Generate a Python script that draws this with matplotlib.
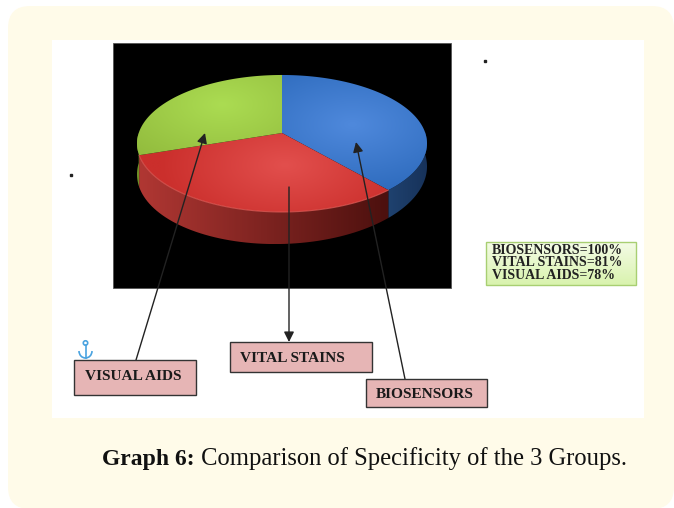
import numpy as np
import matplotlib
matplotlib.use("Agg")
import matplotlib.pyplot as plt
from matplotlib.colors import LinearSegmentedColormap
from matplotlib.patches import FancyBboxPatch, Polygon, Rectangle, Circle, Arc

# data
groups = ["BIOSENSORS", "VITAL STAINS", "VISUAL AIDS"]
specificity = [100, 81, 78]
legend_lines = ["BIOSENSORS=100%", "VITAL STAINS=81%", "VISUAL AIDS=78%"]
caption_bold = "Graph 6:"
caption_rest = " Comparison of Specificity of the 3 Groups."

W, H = 674, 508
CREAM = "#fffbe9"
TOP_COLORS = [("#4f89dc", "#2f6cbe"), ("#e24f4d", "#cb2f2c"), ("#abdc52", "#92bb3d")]
TOP_GLOW = [(352, 125), (285, 165), (222, 105)]
SIDE_COLORS = [("#1f426f", "#17325a"), ("#b03733", "#4c100e"), ("#6f8f28", "#6f8f28")]

# pie geometry, in picture pixels
CX, CY = 282, 133
RX, RY, K = 143.3, 66.9, 0.153


def project(theta):
    u, v = np.cos(theta), np.sin(theta)
    return CX + RX * u / (1 + K * v), CY - RY * v / (1 + K * v)


def drop(theta):
    # how far the rim goes down at this angle
    return 26 - 6 * np.sin(theta) - 4 * np.cos(theta)


def gradient_fill(ax, verts, cmap, mode, glow=None, zorder=2):
    poly = Polygon(verts, closed=True, transform=ax.transData, fc="none", ec="none")
    ax.add_patch(poly)
    x0, y0 = verts.min(axis=0)
    x1, y1 = verts.max(axis=0)
    xx, yy = np.meshgrid(np.linspace(x0, x1, 200), np.linspace(y0, y1, 120))
    if mode == "radial":
        g = np.hypot((xx - glow[0]) / 125, (yy - glow[1]) / 68)
    elif mode == "horizontal":
        g = (xx - x0) / max(x1 - x0, 1)
    else:
        g = (yy - y0) / max(y1 - y0, 1)
    im = ax.imshow(np.clip(g, 0, 1), extent=(x0, x1, y1, y0), cmap=cmap, vmin=0, vmax=1,
                   aspect="auto", zorder=zorder, interpolation="bilinear")
    im.set_clip_path(poly)


fig = plt.figure(figsize=(W / 100, H / 100), dpi=100, facecolor="white")
ax = fig.add_axes([0, 0, 1, 1])
ax.axis("off")

ax.add_patch(FancyBboxPatch((8 + 22, 6 + 22), W - 8 - 44, H + 1 - 6 - 44,
                            boxstyle="round,pad=22", fc=CREAM, ec="none", zorder=0))
ax.add_patch(Rectangle((52, 40), 592, 378, fc="white", ec="none", zorder=1))
ax.add_patch(Rectangle((113, 43), 338, 245, fc="black", ec="#555555", lw=0.6, zorder=1.5))

# wedge limits from the values, clockwise from twelve o'clock
shares = np.array(specificity, dtype=float) / sum(specificity)
edges = np.pi / 2 - 2 * np.pi * np.concatenate([[0], np.cumsum(shares)])

# rim first
rim_stops = [(edges[1], 0.02), (edges[2], edges[1]), (-np.pi, edges[2])]
for (a, b), (c0, c1) in zip(rim_stops, SIDE_COLORS):
    th = np.linspace(b, a, 60)
    x, y = project(th)
    top = np.column_stack([x, y])
    bottom = np.column_stack([x, y + drop(th)])
    verts = np.vstack([top, bottom[::-1]])
    cmap = LinearSegmentedColormap.from_list("rim", [c0, c1])
    gradient_fill(ax, verts, cmap, "horizontal", zorder=2)

# top face
for i in range(3):
    th = np.linspace(edges[i], edges[i + 1], 80)
    x, y = project(th)
    verts = np.vstack([[CX, CY], np.column_stack([x, y])])
    cmap = LinearSegmentedColormap.from_list("top", list(TOP_COLORS[i]))
    gradient_fill(ax, verts, cmap, "radial", glow=TOP_GLOW[i], zorder=3)

# soft highlight on the red front edge
th = np.linspace(edges[2], edges[1], 80)
x, y = project(th)
ax.plot(x, y, color="#e8615c", lw=0.8, alpha=0.7, zorder=3.5)

ax.set_xlim(0, W)
ax.set_ylim(H, 0)

# leader lines
leaders = [((136, 360), (205, 133)), ((289, 187), (289, 342)), ((405, 379), (356, 142))]
for start, end in leaders:
    ax.annotate("", xy=end, xytext=start, zorder=5,
                arrowprops=dict(arrowstyle="-|>,head_width=0.3,head_length=0.6", color="#222222",
                                lw=1.0, shrinkA=0, shrinkB=0))

# name boxes
boxes = {"VISUAL AIDS": (74, 360, 122, 35), "VITAL STAINS": (230, 342, 142, 30), "BIOSENSORS": (366, 379, 121, 28)}
label_pos = {"VISUAL AIDS": (85, 376.5), "VITAL STAINS": (240, 358), "BIOSENSORS": (376, 394)}
for name in groups:
    bx, by, bw, bh = boxes[name]
    ax.add_patch(Rectangle((bx, by), bw, bh, fc="#e6b5b5", ec="#333333", lw=1.0, zorder=6))
    lx, ly = label_pos[name]
    ax.text(lx, ly, name, ha="left", va="center", family="Liberation Serif", weight="bold",
            fontsize=11.1, color="#1a1a1a", zorder=7)

# results box
gradient_fill(ax, np.array([[486, 242], [636, 242], [636, 285], [486, 285]], dtype=float),
              LinearSegmentedColormap.from_list("lg", ["#f4fbe6", "#d9f3ae"]), "vertical", zorder=2)
ax.set_xlim(0, W)
ax.set_ylim(H, 0)
ax.add_patch(Rectangle((486, 242), 150, 43, fc="none", ec="#a8cf72", lw=1.0, zorder=3))
for i, line in enumerate(legend_lines):
    ax.text(492, 250.5 + i * 12.3, line, va="center", family="Liberation Serif", weight="bold",
            fontsize=10.0, color="#222222", zorder=4)

# stray dots
ax.plot([485, 71], [61, 175], ls="none", marker="s", ms=2, color="#222222", zorder=2)

# anchor icon
blue = "#4aa3e0"
ax.add_patch(Circle((85.5, 343), 2.2, fc="none", ec=blue, lw=1.2, zorder=4))
ax.plot([85.5, 85.5], [345, 358], color=blue, lw=1.2, zorder=4)
ax.add_patch(Arc((85.5, 351), 13, 14, theta1=0, theta2=180, ec=blue, lw=1.2, zorder=4))

# caption
t1 = ax.text(102.5, 465, caption_bold, family="Liberation Serif", weight="bold", fontsize=17,
             color="#111111", va="baseline", zorder=4)
fig.canvas.draw()
box = t1.get_window_extent()
ax.text(box.x1, 465, caption_rest, family="Liberation Serif", fontsize=17.7,
        color="#111111", va="baseline", zorder=4)

fig.savefig("out.png", dpi=100, facecolor="white")
plt.close(fig)
